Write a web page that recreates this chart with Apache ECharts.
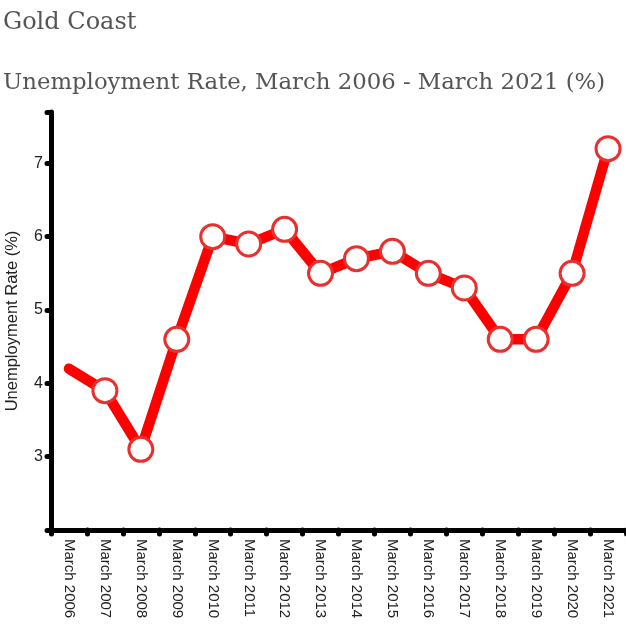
<!DOCTYPE html>
<html>
<head>
<meta charset="utf-8">
<script src="https://cdn.jsdelivr.net/npm/echarts@6/dist/echarts.min.js"></script>
<style>html,body{margin:0;padding:0;background:#fff}#c{width:626px;height:626px}</style>
</head>
<body>
<div id="c"></div>
<script>
const categories = ['March 2006','March 2007','March 2008','March 2009','March 2010','March 2011','March 2012','March 2013','March 2014','March 2015','March 2016','March 2017','March 2018','March 2019','March 2020','March 2021'];
const rates = [4.2, 3.9, 3.1, 4.6, 6.0, 5.9, 6.1, 5.5, 5.7, 5.8, 5.5, 5.3, 4.6, 4.6, 5.5, 7.2];
const titleText = 'Gold Coast';
const subtitleText = 'Unemployment Rate, March 2006 - March 2021 (%)';
const yName = 'Unemployment Rate (%)';

const chart = echarts.init(document.getElementById('c'), null, {renderer:'canvas'});
const seriesData = rates.map((v, i) => i === 0 ? {value: v, symbol: 'none'} : v);
chart.setOption({
  animation: false,
  title: [
    {text: titleText, left: -2, top: 6, textStyle: {fontFamily: 'DejaVu Serif', fontWeight: 'normal', fontSize: 24, color: '#555'}},
    {text: subtitleText, left: -2, top: 67, textStyle: {fontFamily: 'DejaVu Serif', fontWeight: 'normal', fontSize: 22.8, color: '#555'}}
  ],
  grid: {left: 51, right: 0, top: 112, bottom: 96, containLabel: false, outerBoundsMode: 'none'},
  xAxis: {
    type: 'category', data: categories, boundaryGap: true,
    axisLine: {lineStyle: {color: '#000', width: 5, cap: 'round'}},
    axisTick: {show: true, length: 4, lineStyle: {color: '#000', width: 5, cap: 'round'}},
    axisLabel: {rotate: -90, margin: 9, fontFamily: 'Liberation Sans', fontSize: 15, color: '#222', interval: 0}
  },
  yAxis: {
    type: 'value', min: 2, max: 7.7, interval: 1,
    name: yName, nameLocation: 'middle', nameRotate: 90, nameGap: 30,
    nameTextStyle: {fontFamily: 'Liberation Sans', fontSize: 16.5, color: '#222'},
    axisLine: {show: true, lineStyle: {color: '#000', width: 5, cap: 'round'}},
    axisTick: {show: true, length: 4, lineStyle: {color: '#000', width: 5, cap: 'round'}},
    splitLine: {show: false},
    axisLabel: {margin: 8, fontFamily: 'Liberation Sans', fontSize: 16, color: '#222',
      formatter: v => (v === 2 || v % 1 !== 0) ? '' : String(v)}
  },
  series: [{
    type: 'line', data: seriesData,
    lineStyle: {color: '#ff0000', width: 10.5, cap: 'round', join: 'round'},
    symbol: 'circle', symbolSize: 24,
    itemStyle: {color: '#fff', borderColor: '#e8302e', borderWidth: 3},
    z: 3
  }]
});
</script>
</body>
</html>
